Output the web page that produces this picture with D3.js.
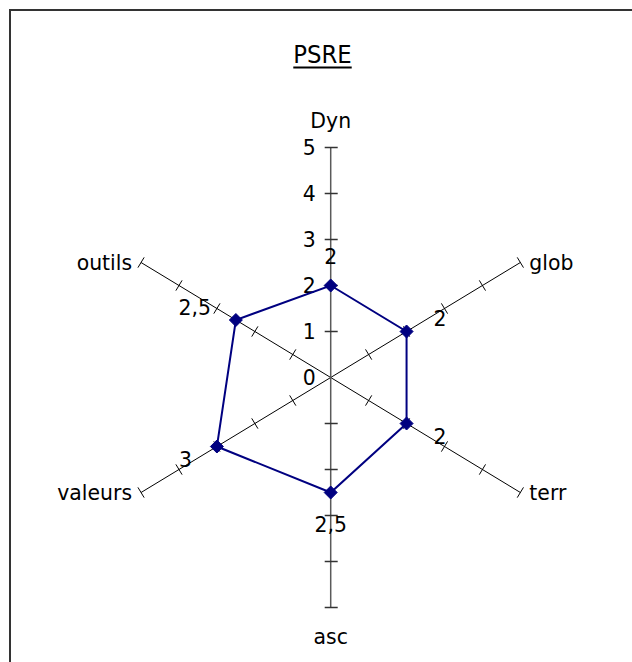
<!DOCTYPE html>
<html>
<head>
<meta charset="utf-8">
<script src="https://cdn.jsdelivr.net/npm/d3@7"></script>
<style>
  html, body { margin: 0; padding: 0; background: #fff; }
  svg { display: block; }
  text { font-family: "DejaVu Sans", Verdana, sans-serif; fill: #000; }
</style>
</head>
<body>
<svg id="chart" width="632" height="662"></svg>
<script>
// ---- data ----
const title = "PSRE";
const categories = ["Dyn", "glob", "terr", "asc", "valeurs", "outils"];
const values = [2, 2, 2, 2.5, 3, 2.5];
const valueLabels = ["2", "2", "2", "2,5", "3", "2,5"];
const tickValues = [0, 1, 2, 3, 4, 5];
const tickLabels = ["0", "1", "2", "3", "4", "5"];
const maxValue = 5;

// ---- layout ----
const svg = d3.select("#chart");
const cx = 330.7, cy = 377.5;
const rX = d3.scaleLinear().domain([0, maxValue]).range([0, 219]);
const rY = d3.scaleLinear().domain([0, maxValue]).range([0, 230]);
const angle = d3.scalePoint().domain(categories).range([0, 2 * Math.PI * (categories.length - 1) / categories.length]);
const pos = (cat, v) => {
  const a = angle(cat);
  return [cx + rX(v) * Math.sin(a), cy - rY(v) * Math.cos(a)];
};
const FS = 21.5;
const SX = 0.95;

// text helper: slightly condensed text like the original
function label(parent, x, y, str, anchor, size) {
  const g = parent.append("g").attr("transform", `translate(${x},${y}) scale(${SX},1)`);
  return g.append("text")
    .attr("x", 0).attr("y", 0).attr("dy", "0.36em")
    .attr("text-anchor", anchor)
    .style("font-size", (size || FS) + "px")
    .text(str);
}

// frame (only top & left visible)
svg.append("path")
  .attr("d", "M10,662 L10,10 L632,10")
  .attr("fill", "none").attr("stroke", "#333").attr("stroke-width", 2);

// title
const tg = svg.append("g").attr("transform", `translate(322.5,63) scale(${SX},1)`);
const t = tg.append("text")
  .attr("x", 0).attr("y", 0)
  .attr("text-anchor", "middle")
  .style("font-size", "24px")
  .text(title);
const tw = t.node().getComputedTextLength() * SX;
svg.append("line")
  .attr("x1", 322.5 - tw / 2).attr("x2", 322.5 + tw / 2)
  .attr("y1", 67.5).attr("y2", 67.5)
  .attr("stroke", "#000").attr("stroke-width", 2);

// spokes (category axes) except the vertical ones
const spokes = svg.append("g");
categories.forEach(cat => {
  const a = angle(cat);
  if (Math.abs(Math.sin(a)) < 1e-6) return;
  const [x1, y1] = pos(cat, 0);
  const [x2, y2] = pos(cat, maxValue);
  spokes.append("line")
    .attr("x1", x1).attr("y1", y1).attr("x2", x2).attr("y2", y2)
    .attr("stroke", "#000").attr("stroke-width", 1);
  const dx = x2 - x1, dy = y2 - y1, L = Math.hypot(dx, dy);
  const px = -dy / L, py = dx / L;
  tickValues.filter(v => v > 0).forEach(v => {
    const [tx, ty] = pos(cat, v);
    spokes.append("line")
      .attr("x1", tx - px * 6).attr("y1", ty - py * 6)
      .attr("x2", tx + px * 6).attr("y2", ty + py * 6)
      .attr("stroke", "#000").attr("stroke-width", 1);
  });
});

// vertical value axis (Dyn up, asc down), gray with crossing ticks
const vAxisScale = d3.scaleLinear().domain([0, maxValue]).range([cy, cy - rY(maxValue)]);
const vAxisDown = d3.scaleLinear().domain([0, maxValue]).range([cy, cy + rY(maxValue)]);
const vg = svg.append("g");
vg.append("line")
  .attr("x1", cx).attr("x2", cx)
  .attr("y1", vAxisScale(maxValue)).attr("y2", vAxisDown(maxValue))
  .attr("stroke", "#5a5a5a").attr("stroke-width", 1.5);
tickValues.filter(v => v > 0).forEach(v => {
  [vAxisScale(v), vAxisDown(v)].forEach(y => {
    vg.append("line")
      .attr("x1", cx - 6).attr("x2", cx + 7)
      .attr("y1", y).attr("y2", y)
      .attr("stroke", "#333").attr("stroke-width", 1.5);
  });
});
tickValues.forEach((v, i) => {
  label(vg, cx - 15, vAxisScale(v), tickLabels[i], "end");
});

// category labels
categories.forEach(cat => {
  const a = angle(cat);
  const [x, y] = pos(cat, maxValue);
  const s = Math.sin(a), c = Math.cos(a);
  let anchor = "middle", lx = x, ly = y;
  if (s > 0.1) { anchor = "start"; lx = x + 9; }
  else if (s < -0.1) { anchor = "end"; lx = x - 9; }
  else if (c > 0) { ly = y - 27; }
  else { ly = y + 29; }
  label(svg, lx, ly, cat, anchor);
});

// series polygon
const pts = categories.map((cat, i) => pos(cat, values[i]));
svg.append("path")
  .attr("d", d3.line().curve(d3.curveLinearClosed)(pts))
  .attr("fill", "none").attr("stroke", "#000080").attr("stroke-width", 2);

// markers
svg.append("g").selectAll("path")
  .data(pts).join("path")
  .attr("transform", d => `translate(${d[0]},${d[1]})`)
  .attr("d", "M0,-6.5 L6.5,0 L0,6.5 L-6.5,0 Z")
  .attr("fill", "#000080").attr("stroke", "#000080");

// data labels
categories.forEach((cat, i) => {
  const a = angle(cat);
  const [x, y] = pts[i];
  const s = Math.sin(a), c = Math.cos(a);
  let anchor = "middle", lx = x, ly = y;
  if (s > 0.1) { anchor = "start"; lx = x + 27; ly = y + (c > 0 ? -13 : 13); }
  else if (s < -0.1) { anchor = "end"; lx = x - 25; ly = y + (c > 0 ? -13 : 13); }
  else if (c > 0) { ly = y - 29; }
  else { ly = y + 32; }
  label(svg, lx, ly, valueLabels[i], anchor);
});
</script>
</body>
</html>
